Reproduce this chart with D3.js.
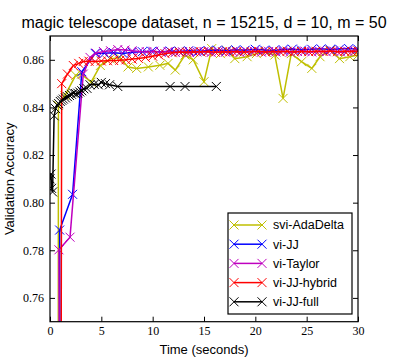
<!DOCTYPE html>
<html>
<head>
<meta charset="utf-8">
<script src="https://cdn.jsdelivr.net/npm/d3@7"></script>
<style>
  html, body { margin: 0; padding: 0; background: #fff; }
  svg { display: block; }
</style>
</head>
<body>
<svg></svg>
<script>
const title = "magic telescope dataset, n = 15215, d = 10, m = 50";
const xTicks = [0, 5, 10, 15, 20, 25, 30];
const yTicks = [0.76, 0.78, 0.80, 0.82, 0.84, 0.86];
const seriesNames = ["svi-AdaDelta", "vi-JJ", "vi-Taylor", "vi-JJ-hybrid", "vi-JJ-full"];

// svi-AdaDelta
const adaTime = [0.80, 0.82, 1.45, 2.5, 3.08, 4.0, 4.9, 5.85, 6.8, 7.6, 8.44, 9.58, 10.7, 11.5, 12.2, 13.15, 13.96, 15.0, 15.75, 16.6, 17.2, 18.0, 19.2, 20.1, 21.0, 21.9, 22.7, 23.5, 24.5, 25.5, 26.3, 27.3, 28.2, 29.2, 30.0];
const adaAcc = [0.70, 0.8409, 0.845, 0.8535, 0.854, 0.8506, 0.8576, 0.8604, 0.861, 0.857, 0.8564, 0.857, 0.8577, 0.8585, 0.8557, 0.862, 0.860, 0.8508, 0.8647, 0.8626, 0.864, 0.8605, 0.8613, 0.8626, 0.8632, 0.862, 0.8438, 0.8626, 0.8592, 0.8564, 0.8613, 0.864, 0.8605, 0.8613, 0.862];

// vi-JJ
const jjTime = [1.0, 0.94, 2.2, 3.1, 4.4, 5.3, 6.2, 7.1, 8.0, 9.0, 9.9, 10.8, 11.7, 12.6, 13.5, 14.5, 15.4, 16.3, 17.2, 18.1, 19.0, 20.0, 20.9, 21.8, 22.7, 23.6, 24.5, 25.5, 26.4, 27.3, 28.2, 29.1, 30.0];
const jjAcc = [0.70, 0.7885, 0.8035, 0.855, 0.8627, 0.8628, 0.8630, 0.8627, 0.8632, 0.8634, 0.8636, 0.8633, 0.8637, 0.8635, 0.8638, 0.8636, 0.8639, 0.8641, 0.8638, 0.8642, 0.8640, 0.8644, 0.8641, 0.8639, 0.8643, 0.8645, 0.8641, 0.8644, 0.8646, 0.8643, 0.8645, 0.8647, 0.8644];

// vi-Taylor
const taylorTime = [0.92, 0.87, 1.95, 3.24, 3.9, 4.5, 5.2, 5.9, 6.6, 7.3, 8.0, 8.7, 9.4, 10.1, 10.8, 11.5, 12.2, 12.9, 13.6, 14.3, 15.0, 15.7, 16.4, 17.1, 17.8, 18.5, 19.2, 19.9, 20.6, 21.3, 22.0, 22.7, 23.4, 24.1, 24.8, 25.5, 26.2, 26.9, 27.6, 28.3, 29.0, 29.7];
const taylorAcc = [0.70, 0.7802, 0.7855, 0.854, 0.861, 0.8628, 0.8635, 0.8638, 0.8643, 0.8641, 0.8638, 0.8635, 0.8633, 0.8636, 0.8632, 0.8635, 0.8631, 0.8634, 0.8630, 0.8633, 0.8635, 0.8631, 0.8634, 0.8632, 0.8635, 0.8631, 0.8634, 0.8636, 0.8632, 0.8635, 0.8633, 0.8636, 0.8632, 0.8635, 0.8637, 0.8633, 0.8636, 0.8634, 0.8637, 0.8633, 0.8636, 0.8638];

// vi-JJ-hybrid
const hybridTime = [1.07, 1.14, 1.7, 2.27, 2.8, 3.24, 3.8, 4.4, 5.0, 5.6, 6.2, 6.8, 7.4, 8.0, 8.6, 9.3, 10.0, 10.6, 11.2, 11.9, 12.6, 13.3, 14.0, 14.7, 15.4, 16.1, 16.8, 17.5, 18.2, 18.9, 19.6, 20.3, 21.0, 21.7, 22.4, 23.1, 23.8, 24.5, 25.2, 25.9, 26.6, 27.3, 28.0, 28.7, 29.4, 30.0];
const hybridAcc = [0.70, 0.850, 0.854, 0.8576, 0.8585, 0.8593, 0.8594, 0.8593, 0.8595, 0.8596, 0.8597, 0.8598, 0.8600, 0.8603, 0.8606, 0.8610, 0.8615, 0.8620, 0.8626, 0.8630, 0.8633, 0.8632, 0.8634, 0.8633, 0.8635, 0.8632, 0.8634, 0.8633, 0.8635, 0.8633, 0.8634, 0.8636, 0.8633, 0.8635, 0.8634, 0.8636, 0.8633, 0.8635, 0.8634, 0.8636, 0.8635, 0.8637, 0.8634, 0.8636, 0.8635, 0.8637];

// vi-JJ-full
const fullTime = [0.0, 0.1, 0.15, 0.25, 0.4, 0.55, 0.7, 0.85, 1.0, 1.15, 1.3, 1.5, 1.7, 1.9, 2.1, 2.3, 2.5, 2.7, 2.9, 3.1, 3.3, 3.6, 3.9, 4.3, 4.7, 5.0, 5.4, 5.8, 6.6, 11.7, 13.15, 16.2];
const fullAcc = [0.810, 0.812, 0.806, 0.8045, 0.8365, 0.8395, 0.841, 0.8416, 0.8425, 0.843, 0.8435, 0.844, 0.8445, 0.845, 0.8455, 0.846, 0.8458, 0.846, 0.8465, 0.847, 0.8478, 0.848, 0.8495, 0.8497, 0.8495, 0.8505, 0.850, 0.8495, 0.8488, 0.8488, 0.8488, 0.8488];

const colors = ["#bfbf00", "#0000ff", "#bf00bf", "#ff0000", "#000000"];

const series = [
  [adaTime, adaAcc],
  [jjTime, jjAcc],
  [taylorTime, taylorAcc],
  [hybridTime, hybridAcc],
  [fullTime, fullAcc]
].map(([t, v], i) => ({
  name: seriesNames[i],
  color: colors[i],
  points: t.map((d, j) => ({ t: d, v: v[j] }))
}));

const width = 399;
const height = 358;
const margin = { top: 36, right: 41, bottom: 36.3, left: 50 };
const innerWidth = width - margin.left - margin.right;
const innerHeight = height - margin.top - margin.bottom;

const svg = d3.select("svg")
  .attr("width", width)
  .attr("height", height);

const x = d3.scaleLinear().domain([0, 30]).range([0, innerWidth]);
const y = d3.scaleLinear().domain([0.75, 0.87]).range([innerHeight, 0]);

svg.append("text")
  .attr("x", margin.left + innerWidth / 2)
  .attr("y", 28)
  .attr("text-anchor", "middle")
  .attr("font-family", "Liberation Sans, Arial, sans-serif")
  .attr("font-size", "16px")
  .text(title);

const g = svg.append("g")
  .attr("transform", `translate(${margin.left}, ${margin.top})`);

svg.append("defs").append("clipPath")
  .attr("id", "clip")
  .append("rect")
  .attr("width", innerWidth)
  .attr("height", innerHeight);

const marker = "M-4.5,-4.5L4.5,4.5M-4.5,4.5L4.5,-4.5";

const plot = g.append("g").attr("clip-path", "url(#clip)");

const line = d3.line().x(d => x(d.t)).y(d => y(d.v));

series.forEach(s => {
  const sg = plot.append("g");
  sg.append("path")
    .attr("d", line(s.points))
    .attr("fill", "none")
    .attr("stroke", s.color)
    .attr("stroke-width", 1.5);
  sg.selectAll("path.mk")
    .data(s.points)
    .enter()
    .append("path")
    .attr("class", "mk")
    .attr("d", marker)
    .attr("transform", d => `translate(${x(d.t)},${y(d.v)})`)
    .attr("stroke", s.color)
    .attr("stroke-width", 1);
});

// axes: inward ticks on all four sides
const tickFont = "Liberation Serif, Times New Roman, serif";
const xAxis = g.append("g")
  .attr("transform", `translate(0, ${innerHeight})`)
  .call(d3.axisBottom(x).tickValues(xTicks).tickSizeInner(-5).tickSizeOuter(0).tickPadding(5));
const xAxisTop = g.append("g")
  .call(d3.axisTop(x).tickValues(xTicks).tickSizeInner(-5).tickSizeOuter(0));
const yAxis = g.append("g")
  .call(d3.axisLeft(y).tickValues(yTicks).tickSizeInner(-5).tickSizeOuter(0).tickPadding(6).tickFormat(d3.format(".2f")));
const yAxisRight = g.append("g")
  .attr("transform", `translate(${innerWidth}, 0)`)
  .call(d3.axisRight(y).tickValues(yTicks).tickSizeInner(-5).tickSizeOuter(0));

xAxisTop.selectAll("text").remove();
yAxisRight.selectAll("text").remove();

[xAxis, xAxisTop, yAxis, yAxisRight].forEach(a => {
  a.select(".domain").remove();
  a.selectAll("line").attr("stroke", "#000").attr("stroke-width", 1);
  a.selectAll("text")
    .attr("font-family", tickFont)
    .attr("font-size", "12px")
    .attr("fill", "#000");
});

g.append("rect")
  .attr("width", innerWidth)
  .attr("height", innerHeight)
  .attr("fill", "none")
  .attr("stroke", "#000")
  .attr("stroke-width", 1.2);

svg.append("text")
  .attr("x", margin.left + innerWidth / 2)
  .attr("y", 354)
  .attr("text-anchor", "middle")
  .attr("font-family", "Liberation Sans, Arial, sans-serif")
  .attr("font-size", "13px")
  .text("Time (seconds)");

svg.append("text")
  .attr("transform", `translate(14, ${margin.top + innerHeight / 2}) rotate(-90)`)
  .attr("text-anchor", "middle")
  .attr("font-family", "Liberation Sans, Arial, sans-serif")
  .attr("font-size", "13px")
  .text("Validation Accuracy");

// legend
const legend = svg.append("g").attr("transform", "translate(228, 213)");
legend.append("rect")
  .attr("width", 124)
  .attr("height", 101)
  .attr("fill", "#fff")
  .attr("stroke", "#000")
  .attr("stroke-width", 1.2);

const items = legend.selectAll("g.item")
  .data(series)
  .enter()
  .append("g")
  .attr("class", "item")
  .attr("transform", (d, i) => `translate(0, ${12 + i * 19.2})`);

items.append("line")
  .attr("x1", 6).attr("x2", 34)
  .attr("stroke", d => d.color)
  .attr("stroke-width", 1.5);

items.selectAll("path")
  .data(d => [6, 34].map(px => ({ px, color: d.color })))
  .enter()
  .append("path")
  .attr("d", marker)
  .attr("transform", d => `translate(${d.px},0)`)
  .attr("stroke", d => d.color)
  .attr("stroke-width", 1);

items.append("text")
  .attr("x", 45)
  .attr("dy", "0.35em")
  .attr("font-family", "Liberation Sans, Arial, sans-serif")
  .attr("font-size", "12.5px")
  .text(d => d.name);
</script>
</body>
</html>
